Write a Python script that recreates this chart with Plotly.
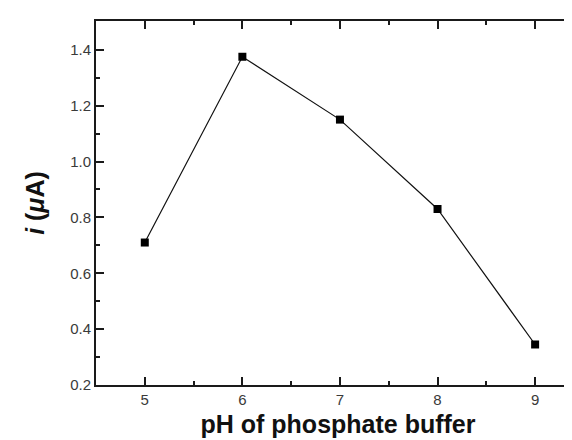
import plotly.graph_objects as go

ph = [5, 6, 7, 8, 9]
current = [0.71, 1.375, 1.15, 0.83, 0.345]
x_ticks = [5, 6, 7, 8, 9]
y_ticks = [0.2, 0.4, 0.6, 0.8, 1.0, 1.2, 1.4]

fig = go.Figure()
fig.add_trace(go.Scatter(x=ph, y=current, mode='lines+markers',
                         line=dict(color='#111', width=1.2),
                         marker=dict(symbol='square', size=8, color='#000')))

axis_font = dict(family='Arial, Liberation Sans', size=15, color='#3a3a3a')
fig.update_layout(
    width=572, height=440, plot_bgcolor='white', paper_bgcolor='white',
    margin=dict(l=88, r=0, t=13, b=63), showlegend=False,
    font=dict(family='Arial, Liberation Sans'),
    xaxis=dict(range=[4.5, 9.46], tickmode='linear', tick0=x_ticks[0], dtick=x_ticks[1] - x_ticks[0],
               automargin=False, showline=True, linecolor='#1a1a1a', linewidth=2,
               mirror='ticks', ticks='inside', ticklen=8, tickwidth=2, tickcolor='#1a1a1a',
               minor=dict(ticks='inside', ticklen=4, dtick=0.5, tickcolor='#1a1a1a', tickwidth=1.5),
               showgrid=False, zeroline=False, tickfont=axis_font,
               title=dict(text='<b>pH of phosphate buffer</b>', font=dict(size=25, color='#111'), standoff=8)),
    yaxis=dict(range=[0.2, 1.503], tickmode='linear', tick0=y_ticks[0], dtick=0.2, tickformat='.1f',
               automargin=False, showline=True, linecolor='#1a1a1a', linewidth=2,
               mirror=False, ticks='inside', ticklen=8, tickwidth=2, tickcolor='#1a1a1a',
               minor=dict(ticks='inside', ticklen=4, dtick=0.1, tickcolor='#1a1a1a', tickwidth=1.5),
               showgrid=False, zeroline=False, tickfont=axis_font,
               title=dict(text='<b><i>i</i> (<i>μ</i>A)</b>', font=dict(size=25, color='#111'), standoff=18)),
)

fig.write_html("out.html")
